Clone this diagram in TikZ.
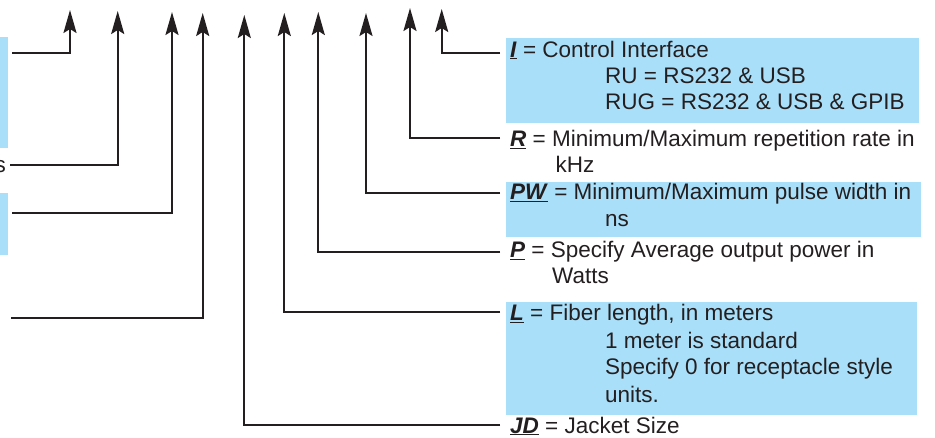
\documentclass[tikz,border=0pt]{standalone}
\usepackage{fontspec}
\setmainfont{Liberation Sans}
\usetikzlibrary{arrows.meta}
\definecolor{ink}{RGB}{35,31,32}
\definecolor{skyfill}{RGB}{170,223,249}
\tikzset{
  lead/.style={draw=ink, line width=2.2pt, -{Stealth[length=23pt,width=13pt,inset=4pt]}},
  txt/.style={anchor=base west, inner sep=0pt, text=ink, font=\fontsize{22.5}{27}\selectfont},
}
\newcommand{\code}[1]{\underline{\textbf{\textit{#1}}}}

\begin{document}
\begin{tikzpicture}[x=1pt,y=-1pt]
    	\useasboundingbox (0,0) rectangle (935,438);
    	% shaded boxes
    	\fill[skyfill] (0,37) rectangle (8.3,148);
    	\fill[skyfill] (0,193) rectangle (8.3,255);
    	\fill[skyfill] (506,38) rectangle (919,123);
    	\fill[skyfill] (506,182) rectangle (921,237);
    	\fill[skyfill] (506,302) rectangle (917,415);
    	% texts
    	\node[txt, anchor=base east] (cutTxt) at (6,173) {s};
    	\node[txt] (iTxt) at (510,57.3) {\code{I} = Control Interface};
    	\node[txt] (ruTxt) at (605,83.3) {RU = RS232 \& USB};
    	\node[txt] (rugTxt) at (605,110) {RUG = RS232 \& USB \& GPIB};
    	\node[txt] (rTxt) at (510,146.5) {\code{R} = Minimum/Maximum repetition rate in};
    	\node[txt] (khzTxt) at (555.5,172.7) {kHz};
    	\node[txt] (pwTxt) at (510,200) {\code{PW} = Minimum/Maximum pulse width in};
    	\node[txt] (nsTxt) at (605,227) {ns};
    	\node[txt] (pTxt) at (510,258) {\code{P} = Specify Average output power in};
    	\node[txt] (wattsTxt) at (552,284) {Watts};
    	\node[txt] (lTxt) at (510,320.7) {\code{L} = Fiber length, in meters};
    	\node[txt] (meterTxt) at (605,348.3) {1 meter is standard};
    	\node[txt] (specTxt) at (605,375) {Specify 0 for receptacle style};
    	\node[txt] (unitsTxt) at (605,402.7) {units.};
    	\node[txt] (jdTxt) at (510,433) {\code{JD} = Jacket Size};
    	% arrow tips
    	\coordinate (tipA) at (70,10);
    	\coordinate (tipB) at (117.7,11);
    	\coordinate (tipC) at (172,12);
    	\coordinate (tipD) at (202.7,13);
    	\coordinate (tipJD) at (244.3,15);
    	\coordinate (tipL) at (284.3,13);
    	\coordinate (tipP) at (318.3,12);
    	\coordinate (tipPW) at (366,13);
    	\coordinate (tipR) at (410,8);
    	\coordinate (tipI) at (441.7,9);
    	% line starts
    	\coordinate (startA) at (12,53.3);
    	\coordinate (startB) at (10,165);
    	\coordinate (startC) at (12,213.3);
    	\coordinate (startD) at (11,317.7);
    	\coordinate (startJD) at (500,425);
    	\coordinate (startL) at (500,312.3);
    	\coordinate (startP) at (500,252.3);
    	\coordinate (startPW) at (500,193.3);
    	\coordinate (startR) at (500,138.3);
    	\coordinate (startI) at (500,53.3);
    	% leader lines
    	\draw[lead] (startA) -| (tipA);
    	\draw[lead] (startB) -| (tipB);
    	\draw[lead] (startC) -| (tipC);
    	\draw[lead] (startD) -| (tipD);
    	\draw[lead] (startJD) -| (tipJD);
    	\draw[lead] (startL) -| (tipL);
    	\draw[lead] (startP) -| (tipP);
    	\draw[lead] (startPW) -| (tipPW);
    	\draw[lead] (startR) -| (tipR);
    	\draw[lead] (startI) -| (tipI);
    	\end{tikzpicture}
\end{document}
